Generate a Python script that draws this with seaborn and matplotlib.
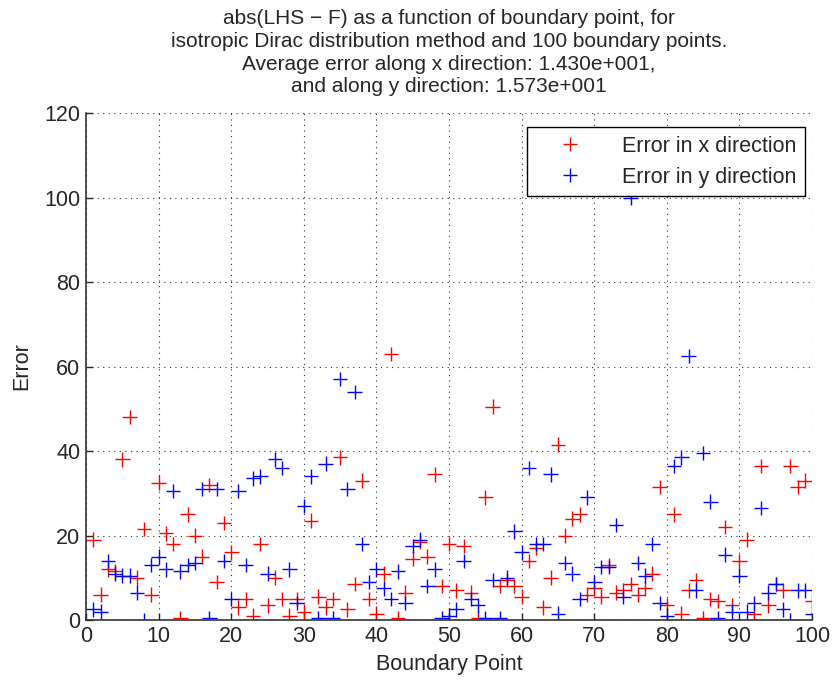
import numpy as np
import pandas as pd
import seaborn as sns
import matplotlib
matplotlib.use("Agg")
import matplotlib.pyplot as plt

boundary_point = list(range(1, 101))

error_x = [19, 6, 12, 11.5, 38, 48, 10, 21.5, 6, 32.5,
           20.5, 18, 0.5, 25, 20, 15, 32, 9, 23, 16,
           3, 5, 1, 18, 3.5, 10, 5, 1, 5, 2,
           23.5, 5.5, 3, 5, 38.5, 2.5, 8.5, 33, 5, 1.5,
           11, 63, 0.5, 6.5, 14.5, 18.5, 15, 34.5, 8, 18,
           7, 17.5, 6.5, 0.5, 29, 50.5, 8, 9.5, 8, 5.5,
           14, 17, 3, 10, 41.5, 20, 24, 25, 6, 7.5,
           5.5, 13, 6.5, 7, 8.5, 6, 7.5, 11, 31.5, 3.5,
           25, 1.5, 7, 9.5, 0.5, 5, 4.5, 22, 3.5, 14,
           19, 1.5, 36.5, 3.5, 8.5, 7, 36.5, 31.5, 33, 4.5]

error_y = [2.5, 2, 14, 11, 10.5, 10.5, 6.5, 0, 13, 15,
           12, 30.5, 11.5, 13, 13.5, 31, 0.5, 31, 14, 5,
           30.5, 13, 33.5, 34, 11, 38, 36, 12, 4, 27,
           34, 0.5, 37, 0.5, 57, 31, 54, 18, 9, 12,
           7.5, 5, 11.5, 4, 17.5, 19, 8, 12, 0.5, 1,
           2.5, 14, 5, 3.5, 0.5, 9.5, 0.5, 10, 21, 16,
           36, 18, 18, 34.5, 1.5, 13.5, 11, 5, 29, 9,
           12.5, 12.5, 22.5, 5.5, 100, 13.5, 10.5, 18, 4, 1,
           36.5, 38.5, 62.5, 7, 39.5, 28, 0.5, 15.5, 2, 10.5,
           2, 4, 26.5, 6.5, 8.5, 2.5, 0, 7, 7, 1.5]

series_names = ["Error in x direction", "Error in y direction"]
series_colors = ["#ff0000", "#0000ff"]

df = pd.DataFrame({
    "Boundary Point": boundary_point * 2,
    "Error": error_x + error_y,
    "Series": [series_names[0]] * len(error_x) + [series_names[1]] * len(error_y),
})

sns.set_style("white")
plt.rcParams["font.family"] = ["Liberation Sans", "DejaVu Sans"]

fig = plt.figure(figsize=(8.32, 6.82), dpi=100)
ax = fig.add_axes([0.1034, 0.0909, 0.8726, 0.7434])

sns.scatterplot(data=df, x="Boundary Point", y="Error", hue="Series",
                palette=dict(zip(series_names, series_colors)),
                marker="+", s=110, linewidth=1.0, ax=ax, legend=True)

ax.set_xlim(0, 100)
ax.set_ylim(0, 120)
ax.set_xticks(np.arange(0, 101, 10))
ax.set_yticks(np.arange(0, 121, 20))
ax.tick_params(axis="both", direction="in", length=5, labelsize=15.5,
               top=False, right=False, left=True, bottom=True, width=1, pad=4)
ax.grid(True, linestyle=(0, (1, 4)), color="#333333", linewidth=0.8)
for s in ["top", "right"]:
    ax.spines[s].set_visible(False)
for s in ["left", "bottom"]:
    ax.spines[s].set_color("#333333")
    ax.spines[s].set_linewidth(1.2)

ax.set_xlabel("Boundary Point", fontsize=15.5, labelpad=5)
ax.set_ylabel("Error", fontsize=15.5, labelpad=9)
ax.set_title("abs(LHS \u2212 F) as a function of boundary point, for\n"
             "isotropic Dirac distribution method and 100 boundary points.\n"
             "Average error along x direction: 1.430e+001,\n"
             "and along y direction: 1.573e+001",
             fontsize=15, pad=15, linespacing=1.24)

leg = ax.legend(loc="upper right", fontsize=15.5, frameon=True, fancybox=False,
                edgecolor="black", borderpad=0.4, handlelength=3.2,
                handletextpad=0.8, labelspacing=0.45,
                bbox_to_anchor=(0.99, 0.972), borderaxespad=0, markerscale=1.0)
leg.get_frame().set_linewidth(1.0)
leg.get_frame().set_alpha(1.0)

fig.savefig("out.png", dpi=100)
